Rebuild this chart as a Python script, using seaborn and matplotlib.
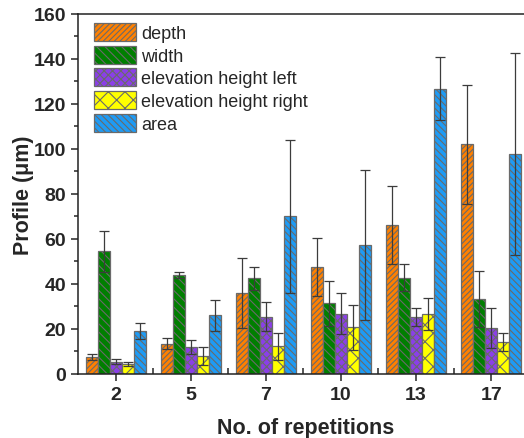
import numpy as np
import pandas as pd
import seaborn as sns
import matplotlib.pyplot as plt
from matplotlib.ticker import MultipleLocator, FixedLocator

sns.set_style("ticks")
plt.rcParams['font.family'] = ['Liberation Sans', 'DejaVu Sans']
plt.rcParams['hatch.linewidth'] = 0.8

# valores
repeticoes = ['2', '5', '7', '10', '13', '17']
series = ['depth', 'width', 'elevation height left', 'elevation height right', 'area']
depth = [7.5, 13.5, 36, 47.5, 66.2, 102]
width = [54.5, 44, 42.5, 31.3, 42.7, 33.3]
elev_left = [5.5, 12, 25.4, 26.8, 25.3, 20.4]
elev_right = [4.5, 8, 12.4, 20.8, 26.6, 14.4]
area = [19, 26, 70, 57.3, 126.8, 97.8]

err_depth = [1.5, 2.5, 15.5, 13, 17.5, 26.5]
err_width = [9, 1.5, 5, 10, 6, 12.5]
err_left = [1, 3, 6.5, 9, 4, 9]
err_right = [1, 4, 6, 10, 7, 4]
err_area = [3.5, 7, 34, 33.5, 14, 45]

valores = [depth, width, elev_left, elev_right, area]
erros = [err_depth, err_width, err_left, err_right, err_area]
cores = ['#FF8000', '#007F00', '#8B3FE8', '#FFFF00', '#1E9BF5']
hachuras = ['//////', '\\\\\\\\', 'xxxx', 'xx', '\\\\\\\\\\']

# tabela longa para o seaborn
linhas = []
for s, v in zip(series, valores):
    for r, y in zip(repeticoes, v):
        linhas.append({'rep': r, 'serie': s, 'valor': y})
df = pd.DataFrame(linhas)

fig = plt.figure(figsize=(5.24, 4.39), dpi=100)
ax = fig.add_axes([0.149, 0.146, 0.87, 0.82])

sns.barplot(data=df, x='rep', y='valor', hue='serie', order=repeticoes,
            hue_order=series, palette=cores, width=0.8, errorbar=None,
            edgecolor='#6a6a6a', linewidth=0.9, saturation=1, ax=ax)

# hachuras e barras de erro
for cont, h, e in zip(ax.containers, hachuras, erros):
    for p in cont.patches:
        p.set_hatch(h)
        if hasattr(p, 'set_hatchcolor'):
            p.set_hatchcolor('#1a1a1a')
    xs = [p.get_x() + p.get_width() / 2 for p in cont.patches]
    ys = [p.get_height() for p in cont.patches]
    ax.errorbar(xs, ys, yerr=e, fmt='none', ecolor='#3c3c3c', elinewidth=0.9,
                capsize=3.5, capthick=0.9, zorder=5)

ax.set_ylim(0, 160)
ax.set_xlim(-0.5, 5.57)
ax.yaxis.set_major_locator(MultipleLocator(20))
ax.yaxis.set_minor_locator(MultipleLocator(10))
ax.xaxis.set_minor_locator(FixedLocator(np.arange(0.5, 5.5, 1)))
ax.tick_params(axis='both', which='major', direction='out', length=5, width=1.1, labelsize=14)
ax.tick_params(axis='y', which='minor', direction='out', length=3, width=1.1)
ax.tick_params(axis='x', which='minor', direction='in', length=4, width=1.1)
for lab in ax.get_xticklabels() + ax.get_yticklabels():
    lab.set_fontweight('bold')
for sp in ax.spines.values():
    sp.set_linewidth(1.1)
    sp.set_color('#222222')

ax.set_xlabel('No. of repetitions', fontsize=15.5, fontweight='bold', labelpad=10)
ax.set_ylabel('Profile (\u03bcm)', fontsize=15.5, fontweight='bold', labelpad=0)

ax.legend(ax.containers, series, loc='upper left', frameon=False, fontsize=13,
          handlelength=2.3, handleheight=1.15, handletextpad=0.3, labelspacing=0.2,
          bbox_to_anchor=(0.008, 1.01), borderaxespad=0.3)

plt.savefig('out.png', dpi=100)
